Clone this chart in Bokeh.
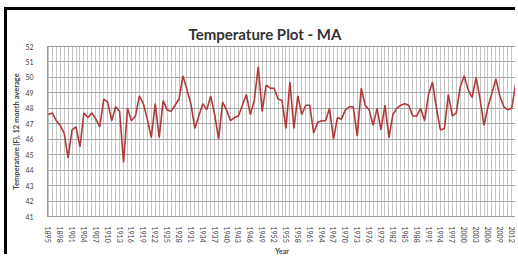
from bokeh.plotting import figure
from bokeh.models import FixedTicker, Range1d
from bokeh.embed import file_html
from bokeh.resources import INLINE

years = list(range(1895, 2014))
temps = [47.6, 47.7, 47.2, 46.9, 46.4, 44.8, 46.6, 46.8, 45.5, 47.7,
         47.4, 47.7, 47.3, 46.8, 48.6, 48.4, 47.2, 48.1, 47.8, 44.5,
         48.0, 47.2, 47.5, 48.8, 48.3, 47.3, 46.1, 48.3, 46.1, 48.5,
         47.9, 47.8, 48.2, 48.6, 50.1, 49.2, 48.3, 46.7, 47.5, 48.3,
         47.9, 48.8, 47.6, 46.0, 48.4, 47.9, 47.2, 47.4, 47.5, 48.2,
         48.9, 47.6, 48.5, 50.7, 47.8, 49.5, 49.3, 49.3, 48.6, 48.5,
         46.7, 49.7, 46.7, 48.8, 47.6, 48.2, 48.2, 46.4, 47.1, 47.2,
         47.2, 48.0, 46.0, 47.4, 47.3, 47.9, 48.1, 48.1, 46.2, 49.3,
         48.2, 47.9, 46.9, 48.0, 46.6, 48.2, 46.1, 47.6, 48.0, 48.2,
         48.3, 48.2, 47.5, 47.5, 48.0, 47.2, 48.9, 49.7, 48.0, 46.6,
         46.7, 48.9, 47.5, 47.7, 49.4, 50.1, 49.2, 48.7, 50.0, 48.6,
         46.9, 48.1, 49.0, 49.9, 48.8, 48.1, 47.9, 48.0, 49.6]
y_ticks = list(range(41, 53))
x_label_years = years[::3]

title_text = "Temperature Plot - MA"
x_title = "Year"
y_title = "Temperature (F), 12 month average"

p = figure(width=511, height=247, output_backend="svg", toolbar_location=None,
           x_range=Range1d(1894.8, 2013.2), y_range=Range1d(41, 52),
           min_border_left=40, min_border_right=2, min_border_top=36,
           min_border_bottom=41,
           background_fill_color="white", border_fill_color="white",
           styles={"margin-left": "4px", "margin-top": "7px",
                   "border-left": "3px solid black",
                   "border-top": "3px solid black"})

p.line(years, temps, line_color="#b03a3a", line_width=1.6)

p.title.text = title_text
p.title.align = "left"
p.title.offset = 141
p.title.text_font = "Lato"
p.title.text_font_size = "15px"
p.title.text_font_style = "bold"
p.title.text_color = "#333333"
p.title.standoff = 8

p.outline_line_color = "#9a9a9a"

p.xgrid.ticker = FixedTicker(ticks=years)
p.xgrid.grid_line_color = "#c4c4c4"
p.xgrid.grid_line_width = 1
p.ygrid.ticker = FixedTicker(ticks=y_ticks)
p.ygrid.grid_line_color = "#a8a8a8"

p.xaxis.ticker = FixedTicker(ticks=x_label_years)
p.xaxis.major_label_orientation = "vertical"
p.xaxis.major_label_text_font_size = "7px"
p.xaxis.major_label_text_font = "Lato"
p.xaxis.major_label_text_color = "#444444"
p.xaxis.axis_label = x_title
p.xaxis.axis_label_text_font_size = "7px"
p.xaxis.axis_label_text_font = "Lato"
p.xaxis.axis_label_text_font_style = "bold"
p.xaxis.axis_label_standoff = 1
p.xaxis.major_label_standoff = 4

p.yaxis.ticker = FixedTicker(ticks=y_ticks)
p.yaxis.major_label_text_font_size = "7px"
p.yaxis.major_label_text_font = "Lato"
p.yaxis.major_label_text_color = "#444444"
p.yaxis.axis_label = y_title
p.yaxis.axis_label_text_font_size = "7.5px"
p.yaxis.axis_label_text_font = "Lato"
p.yaxis.axis_label_text_font_style = "bold"
p.yaxis.axis_label_standoff = 1
p.yaxis.major_label_standoff = 8

for ax in (p.xaxis, p.yaxis):
    ax.axis_line_color = "#9a9a9a"
    ax.major_tick_line_color = None
    ax.minor_tick_line_color = None

open("out.html", "w").write(file_html(p, INLINE))
